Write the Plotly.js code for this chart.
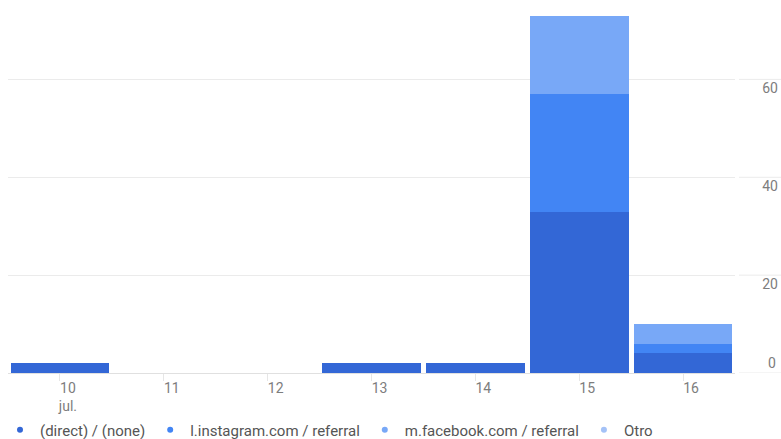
<!DOCTYPE html>
<html>
<head>
<meta charset="utf-8">
<script src="https://cdn.plot.ly/plotly-3.0.1.min.js"></script>
<style>html,body{margin:0;padding:0;background:#fff;}#chart{width:781px;height:439px;}</style>
</head>
<body>
<div id="chart"></div>
<script>
const days = ['10', '11', '12', '13', '14', '15', '16'];
const dayLabels = ['10<br>jul.', '11', '12', '13', '14', '15', '16'];
const seriesNames = ['(direct) / (none)', 'l.instagram.com / referral', 'm.facebook.com / referral', 'Otro'];
const direct = [2, 0, 0, 2, 2, 33, 4];
const instagram = [0, 0, 0, 0, 0, 24, 2];
const facebook = [0, 0, 0, 0, 0, 16, 4];
const otro = [0, 0, 0, 0, 0, 0, 0];
const yTicks = [20, 40, 60];
const colors = ['#3367d6', '#4285f4', '#78a8f7', '#a4c2f7'];

const values = [direct, instagram, facebook, otro];
const traces = [];
values.forEach((v, i) => {
  traces.push({
    type: 'bar', x: days, y: v, name: seriesNames[i], showlegend: false,
    marker: {color: colors[i], line: {width: 0}}, hoverinfo: 'x+y+name'
  });
});
values.forEach((v, i) => {
  traces.push({
    type: 'scatter', mode: 'markers', x: [null], y: [null], name: seriesNames[i],
    marker: {color: colors[i], size: 6, symbol: 'circle'}, showlegend: true
  });
});

const plotL = 8, plotR = 0;
const fullW = 781 - plotL - plotR;
const xDomEnd = (735 - plotL) / fullW;
const shapes = [0].concat(yTicks).map(t => ({
  type: 'line', xref: 'paper', yref: 'y',
  x0: (739 - plotL) / fullW, x1: 1, y0: t, y1: t,
  line: {color: '#ebebeb', width: 1}
}));
const tickColor = '#7d7d7d';

const layout = {
  width: 781, height: 439,
  margin: {l: plotL, r: plotR, t: 6, b: 66, autoexpand: false},
  paper_bgcolor: '#fff', plot_bgcolor: '#fff',
  font: {family: 'Roboto, Arial, sans-serif', size: 14, color: tickColor},
  barmode: 'stack', bargap: 0.05,
  xaxis: {
    type: 'category', domain: [0, xDomEnd],
    tickmode: 'array', tickvals: days, ticktext: dayLabels,
    ticks: 'outside', ticklen: 7, tickcolor: '#e6e6e6', tickwidth: 1,
    ticklabelshift: 8, ticklabelstandoff: -5,
    showline: true, linecolor: '#e0e0e0', linewidth: 1,
    showgrid: false, zeroline: false, automargin: false,
    tickfont: {size: 14, color: tickColor}
  },
  yaxis: {
    range: [0, 75], anchor: 'free', position: 1, side: 'right',
    tickmode: 'array', tickvals: yTicks, ticktext: yTicks.map(String),
    ticklabelposition: 'inside', ticks: '', ticklabelshift: 9,
    showgrid: true, gridcolor: '#ebebeb', gridwidth: 1,
    zeroline: false, showline: false, automargin: false,
    tickfont: {size: 14, color: tickColor}
  },
  annotations: [{
    xref: 'paper', yref: 'y', x: 1, y: 0, text: '0', showarrow: false,
    xanchor: 'right', yanchor: 'middle', yshift: 10, xshift: -3,
    font: {size: 14, color: tickColor}
  }],
  shapes: shapes,
  legend: {
    orientation: 'h', xref: 'container', yref: 'container',
    x: -0.005, xanchor: 'left', y: 0.0205, yanchor: 'middle',
    font: {size: 15, color: '#555'}, itemwidth: 30, tracegroupgap: 0,
    traceorder: 'normal', bgcolor: 'rgba(0,0,0,0)'
  },
  showlegend: true
};

Plotly.newPlot('chart', traces, layout, {displayModeBar: false, staticPlot: true});
</script>
</body>
</html>
